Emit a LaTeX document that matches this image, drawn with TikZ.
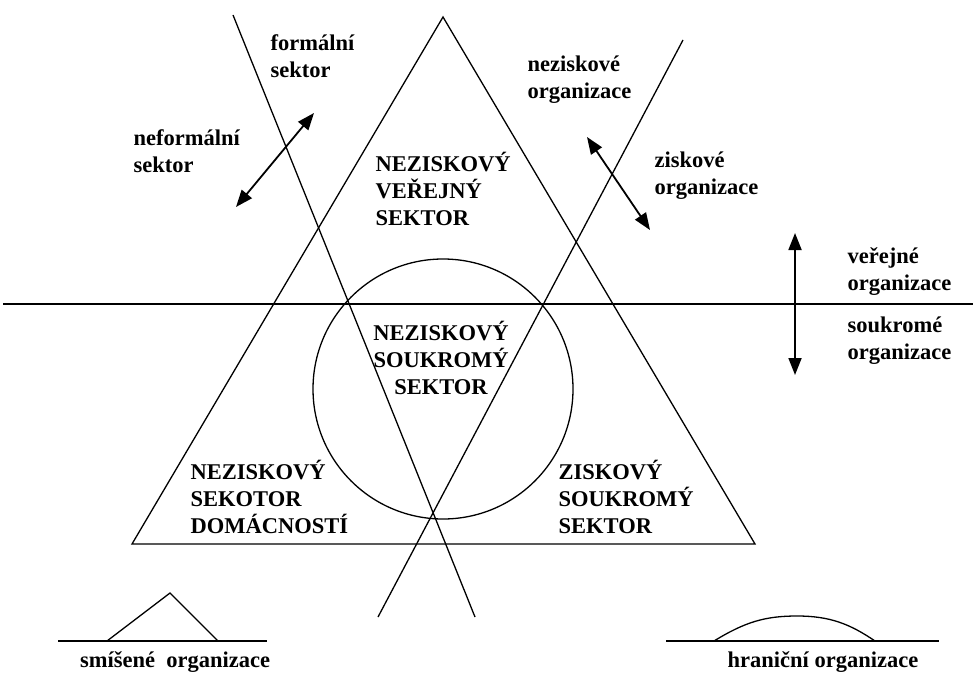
\documentclass[tikz,border=0pt]{standalone}
\usepackage{fontspec}
\setmainfont{Liberation Serif}
\usetikzlibrary{arrows.meta}

\begin{document}
\begin{tikzpicture}[x=1pt, y=-1pt, >={Triangle[length=17pt, width=13pt]}, line width=1.3pt, font=\fontsize{22.5}{27}\selectfont\bfseries]
\tikzstyle{lbl}=[inner sep=0pt, align=left, anchor=west]
\tikzstyle{mid}=[inner sep=0pt, align=center]
\tikzstyle{dbl}=[<->, line width=1.8pt]
\useasboundingbox (0,0) rectangle (976,682);

\coordinate (Top) at (443,17);
\coordinate (BL) at (132,544);
\coordinate (BR) at (755,544);
\draw (Top) -- (BL) -- (BR) -- cycle;

\node[draw, circle, minimum size=260pt, inner sep=0pt] (Kruh) at (443,389) {};

\coordinate (F1) at (233,15);
\coordinate (F2) at (475,617);
\draw (F1) -- (F2);
\coordinate (Z1) at (683,40);
\coordinate (Z2) at (378,617);
\draw (Z1) -- (Z2);
\coordinate (H1) at (3,304);
\coordinate (H2) at (973,304);
\draw (H1) -- (H2);

\coordinate (NF1) at (236,207);
\coordinate (NF2) at (314,113);
\draw[dbl] (NF1) -- (NF2);
\coordinate (NZ1) at (587,137);
\coordinate (NZ2) at (650,230);
\draw[dbl] (NZ1) -- (NZ2);
\coordinate (VS1) at (795,233);
\coordinate (VS2) at (795,375);
\draw[dbl] (VS1) -- (VS2);

\node[lbl] (neform) at (133,151) {neformální\\sektor};
\node[lbl] (form) at (270,56) {formální\\sektor};
\node[lbl] (nezorg) at (527,80) {neziskové\\organizace};
\node[lbl] (ziskorg) at (654,176) {ziskové\\organizace};
\node[lbl] (verorg) at (847,272) {veřejné\\organizace};
\node[lbl] (soukorg) at (847,341) {soukromé\\organizace};

\node[lbl] (NVS) at (375,189) {NEZISKOVÝ\\VEŘEJNÝ\\SEKTOR};
\node[mid] (NSS) at (441,358) {NEZISKOVÝ\\SOUKROMÝ\\SEKTOR};
\node[lbl] (NSD) at (190,497) {NEZISKOVÝ\\SEKOTOR\\DOMÁCNOSTÍ};
\node[lbl] (ZSS) at (558,497) {ZISKOVÝ\\SOUKROMÝ\\SEKTOR};

\coordinate (sm1) at (58,641);
\coordinate (sm2) at (267,641);
\draw (sm1) -- (sm2);
\draw (107,641) -- (170,593) -- (218,641);
\node[mid] (smis) at (175,662) {smíšené\ \ organizace};

\coordinate (hr1) at (666,641);
\coordinate (hr2) at (939,641);
\draw (hr1) -- (hr2);
\draw (714,641) .. controls (745,622) and (765,616) .. (797,616) .. controls (830,616) and (850,624) .. (875,641);
\node[mid] (hran) at (823,662) {hraniční organizace};
\end{tikzpicture}
\end{document}
